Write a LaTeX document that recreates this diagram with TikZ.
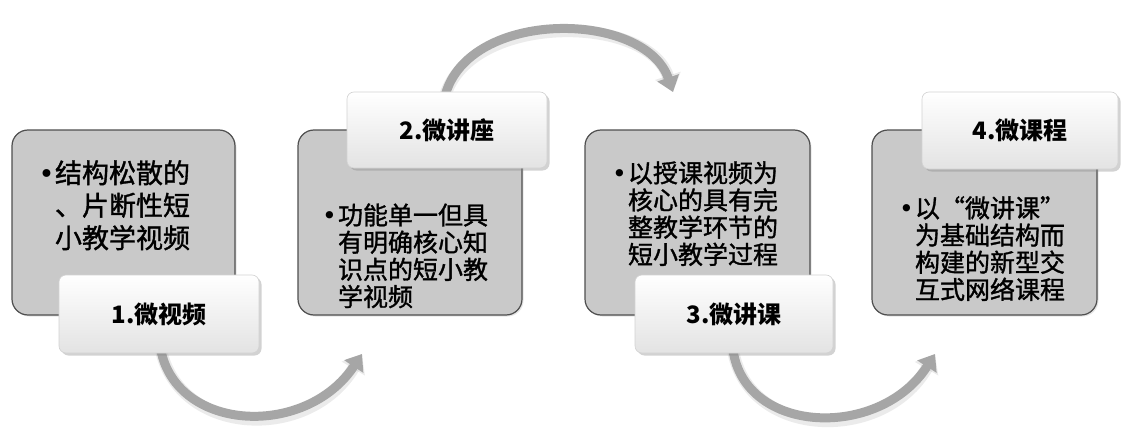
\documentclass[tikz,border=0pt]{standalone}
\usepackage{fontspec}
\setmainfont{Noto Sans CJK SC}
\newfontfamily\bulfont{DejaVu Sans}
\usetikzlibrary{arrows.meta,shadows}
\definecolor{boxfill}{HTML}{C9C9C9}
\definecolor{boxline}{HTML}{4F4F4F}
\definecolor{arrowgray}{HTML}{A6A6A6}
\definecolor{labelline}{HTML}{D2D2D2}
\newcommand{\bul}{\llap{\makebox[17pt][c]{\bulfont •}}}
\begin{document}
\begin{tikzpicture}[x=1pt,y=-1pt,
  flowarrow/.style={draw=arrowgray, line width=9pt, -{Triangle[width=22pt,length=15pt]}},
  arrowshadow/.style={draw=black, opacity=0.08, line width=12pt, -{Triangle[width=26pt,length=17pt]}},
  graybox/.style={draw=boxline, line width=1.2pt, fill=boxfill, rounded corners=16pt, inner sep=0pt, outer sep=0pt,
    drop shadow={shadow xshift=1.5pt, shadow yshift=-1.5pt, opacity=0.2}},
  labelbox/.style={draw=labelline, line width=0.6pt, rounded corners=7pt, top color=white, bottom color=black!11,
    inner sep=0pt, outer sep=0pt, font=\bfseries\fontsize{24}{28}\selectfont,
    drop shadow={shadow xshift=2.5pt, shadow yshift=-2.5pt, opacity=0.35}},
  bodytext/.style={inner sep=0pt, outer sep=0pt, anchor=base west},
  bigtext/.style={bodytext, font=\addfontfeature{FakeBold=1.3}\fontsize{27}{32.5}\selectfont},
  smalltext/.style={bodytext, font=\addfontfeature{FakeBold=1.3}\fontsize{25}{27.2}\selectfont}]
\useasboundingbox (0,0) rectangle (1125,428);
\fill[white] (0,0) rectangle (1125,428);

% arrows (drawn first, behind the boxes)
\coordinate (a1s) at (160,345); \coordinate (a1e) at (362,354);
\coordinate (a2s) at (445,96);  \coordinate (a2e) at (673,92);
\coordinate (a3s) at (733,350); \coordinate (a3e) at (935,354);
\begin{scope}[shift={(3,4)}]
\draw[arrowshadow] (a1s) .. controls (172,432) and (305,440) .. (a1e);
\draw[arrowshadow] (a2s) .. controls (468,8) and (645,10) .. (a2e);
\draw[arrowshadow] (a3s) .. controls (745,435) and (880,440) .. (a3e);
\end{scope}
\draw[flowarrow] (a1s) .. controls (172,432) and (305,440) .. (a1e);
\draw[flowarrow] (a2s) .. controls (468,8) and (645,10) .. (a2e);
\draw[flowarrow] (a3s) .. controls (745,435) and (880,440) .. (a3e);

% gray content boxes
\node[graybox, minimum width=223pt, minimum height=185pt] (b1) at (123.5,222.5) {};
\node[graybox, minimum width=224pt, minimum height=185pt] (b2) at (410,222.5) {};
\node[graybox, minimum width=225pt, minimum height=185pt] (b3) at (697.5,222.5) {};
\node[graybox, minimum width=225pt, minimum height=185pt] (b4) at (984.5,222.5) {};

% texts
\node[bigtext] (t1) at (55,183) {\vtop{\hbox{\bul 结构松散的}\hbox{、片断性短}\hbox{小教学视频}}};
\node[smalltext] (t2) at (338,224.5) {\vtop{\hbox{\bul 功能单一但具}\hbox{有明确核心知}\hbox{识点的短小教}\hbox{学视频}}};
\node[smalltext] (t3) at (628,182.3) {\vtop{\hbox{\bul 以授课视频为}\hbox{核心的具有完}\hbox{整教学环节的}\hbox{短小教学过程}}};
\node[smalltext] (t4) at (915,217.4) {\vtop{\hbox{\bul 以\makebox[25pt][r]{“}微讲课\makebox[25pt][l]{”}}\hbox{为基础结构而}\hbox{构建的新型交}\hbox{互式网络课程}}};

% white labels
\node[labelbox, minimum width=200pt, minimum height=78pt] (l1) at (159,314) {1.微视频};
\node[labelbox, minimum width=200pt, minimum height=76pt] (l2) at (447,130) {2.微讲座};
\node[labelbox, minimum width=198pt, minimum height=78pt] (l3) at (734,314) {3.微讲课};
\node[labelbox, minimum width=196pt, minimum height=77pt] (l4) at (1020,130.5) {4.微课程};
\end{tikzpicture}
\end{document}
